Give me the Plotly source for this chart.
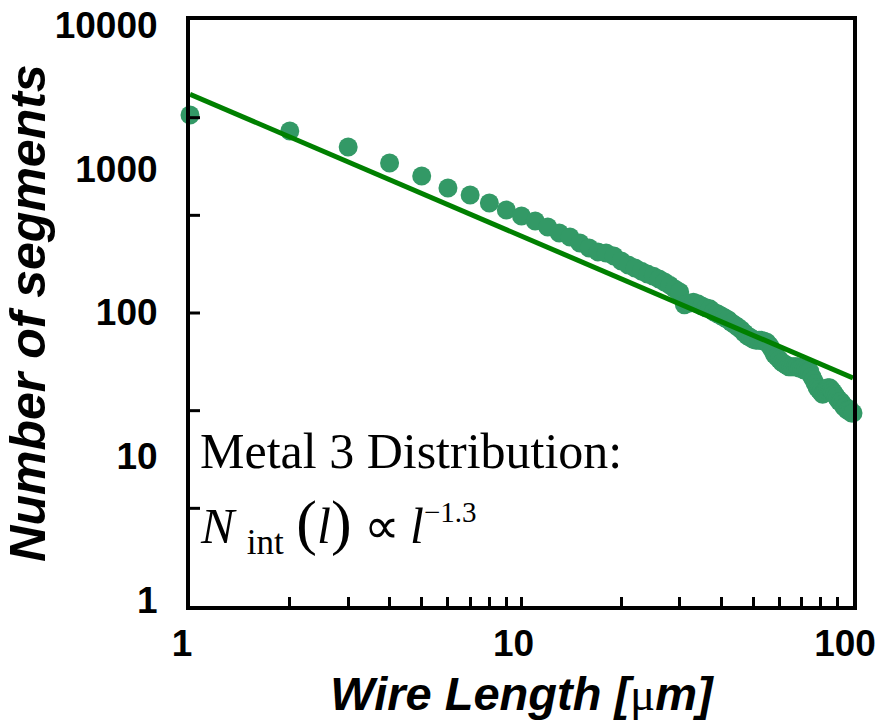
import plotly.graph_objects as go

# ---- data ----
wire_length = list(range(1, 101))
segments = [2365, 1830, 1417, 1096, 890, 735, 657, 578, 516, 469,
            433, 393, 357, 335, 304, 281, 264, 259, 247, 228,
            214, 204, 194, 185, 179, 171, 163, 155, 146, 139,
            113, 116, 118, 115, 111, 108, 106, 101, 98, 95,
            92, 89, 85, 82, 79, 76, 72, 69, 67, 65,
            64, 64, 64, 63, 62, 59, 55, 51, 49, 47,
            45, 44, 43, 42, 42, 42, 42, 42, 41, 41,
            40, 40, 39, 39, 36, 34, 32, 30, 29, 28,
            27, 28, 29, 30, 30, 29, 28, 27, 26, 25,
            24, 24, 23, 22, 22, 21, 21, 21, 20, 20]

fit_x = [1.0, 100.0]
fit_y = [3300, 35]

x_tickvals = [1, 2, 3, 4, 5, 6, 7, 8, 9, 10, 20, 30, 40, 50, 60, 70, 80, 90, 100]
x_ticktext = ["1", "", "", "", "", "", "", "", "", "10", "", "", "", "", "", "", "", "", "100"]
y_tickvals = [1, 10, 100, 1000, 10000]
y_ticktext = ["1", "10", "100", "1000", "10000"]
# the left-axis tick marks of the reference sit at sixths of the frame height
y_side_ticks = [1, 2, 3, 4, 5]
y_side_divisions = 6

MARKER = "#339966"
LINE = "#008000"

fig = go.Figure()
fig.add_trace(go.Scatter(
    x=wire_length, y=segments, mode="markers",
    marker=dict(color=MARKER, size=19, line=dict(width=0)),
    cliponaxis=False, showlegend=False, hoverinfo="x+y"))
fig.add_trace(go.Scatter(
    x=fit_x, y=fit_y, mode="lines",
    line=dict(color=LINE, width=5),
    showlegend=False))

tick_font = dict(family="Liberation Sans, Arial", size=37, color="black", weight="bold")

fig.update_layout(
    width=877, height=725,
    margin=dict(l=190, r=24, t=20, b=119, autoexpand=False),
    paper_bgcolor="white", plot_bgcolor="white",
    xaxis=dict(
        type="log", range=[0, 2], automargin=False,
        tickvals=x_tickvals, ticktext=x_ticktext,
        ticks="inside", ticklen=9, tickwidth=3, tickcolor="black",
        ticklabelstandoff=2, ticklabelshift=-8, ticklabeloverflow="allow",
        tickfont=tick_font,
        showline=True, linewidth=4, linecolor="black", mirror=True,
        showgrid=False, zeroline=False,
        title=dict(text="<b><i>Wire Length [<span style='font-family:Liberation Serif;font-style:normal;font-weight:normal'>μ</span>m]</i></b>",
                   font=dict(family="Liberation Sans, Arial", size=47, color="black"),
                   standoff=15),
    ),
    yaxis=dict(
        type="log", range=[-0.0417, 4.0348], automargin=False,
        tickvals=y_tickvals, ticktext=y_ticktext,
        ticks="", ticklabelstandoff=21, ticklabeloverflow="allow",
        tickfont=tick_font,
        showline=True, linewidth=4, linecolor="black", mirror=True,
        showgrid=False, zeroline=False,
        title=dict(text="<b><i>Number of segments</i></b>",
                   font=dict(family="Liberation Sans, Arial", size=50, color="black"),
                   standoff=13),
    ),
)

for k in y_side_ticks:
    fig.add_shape(type="line", xref="paper", yref="paper",
                  xsizemode="pixel", xanchor=0, x0=0, x1=10,
                  y0=k / y_side_divisions, y1=k / y_side_divisions,
                  line=dict(color="black", width=3))

serif = "Liberation Serif, Times New Roman"
fig.add_annotation(
    xref="paper", yref="paper", x=0.012, y=0.265, xanchor="left", yanchor="middle",
    text="Metal 3 Distribution:", showarrow=False,
    font=dict(family=serif, size=50, color="black"))
fig.add_annotation(
    xref="paper", yref="paper", x=0.012, y=0.138, xanchor="left", yanchor="middle",
    text="<i>N</i> <sub>int</sub> <span style='font-size:62px'>(</span><i>l</i><span style='font-size:62px'>)</span> ∝\u2009<i>l</i><sup><span style='font-size:29px'>−1.3</span></sup>",
    showarrow=False,
    font=dict(family=serif, size=50, color="black"))

# remove the default 8px page margin so the figure fills the 877x725 window exactly
fig.write_html("out.html",
               config={"displayModeBar": False},
               post_script="document.body.style.margin='0';document.body.style.overflow='hidden';")
